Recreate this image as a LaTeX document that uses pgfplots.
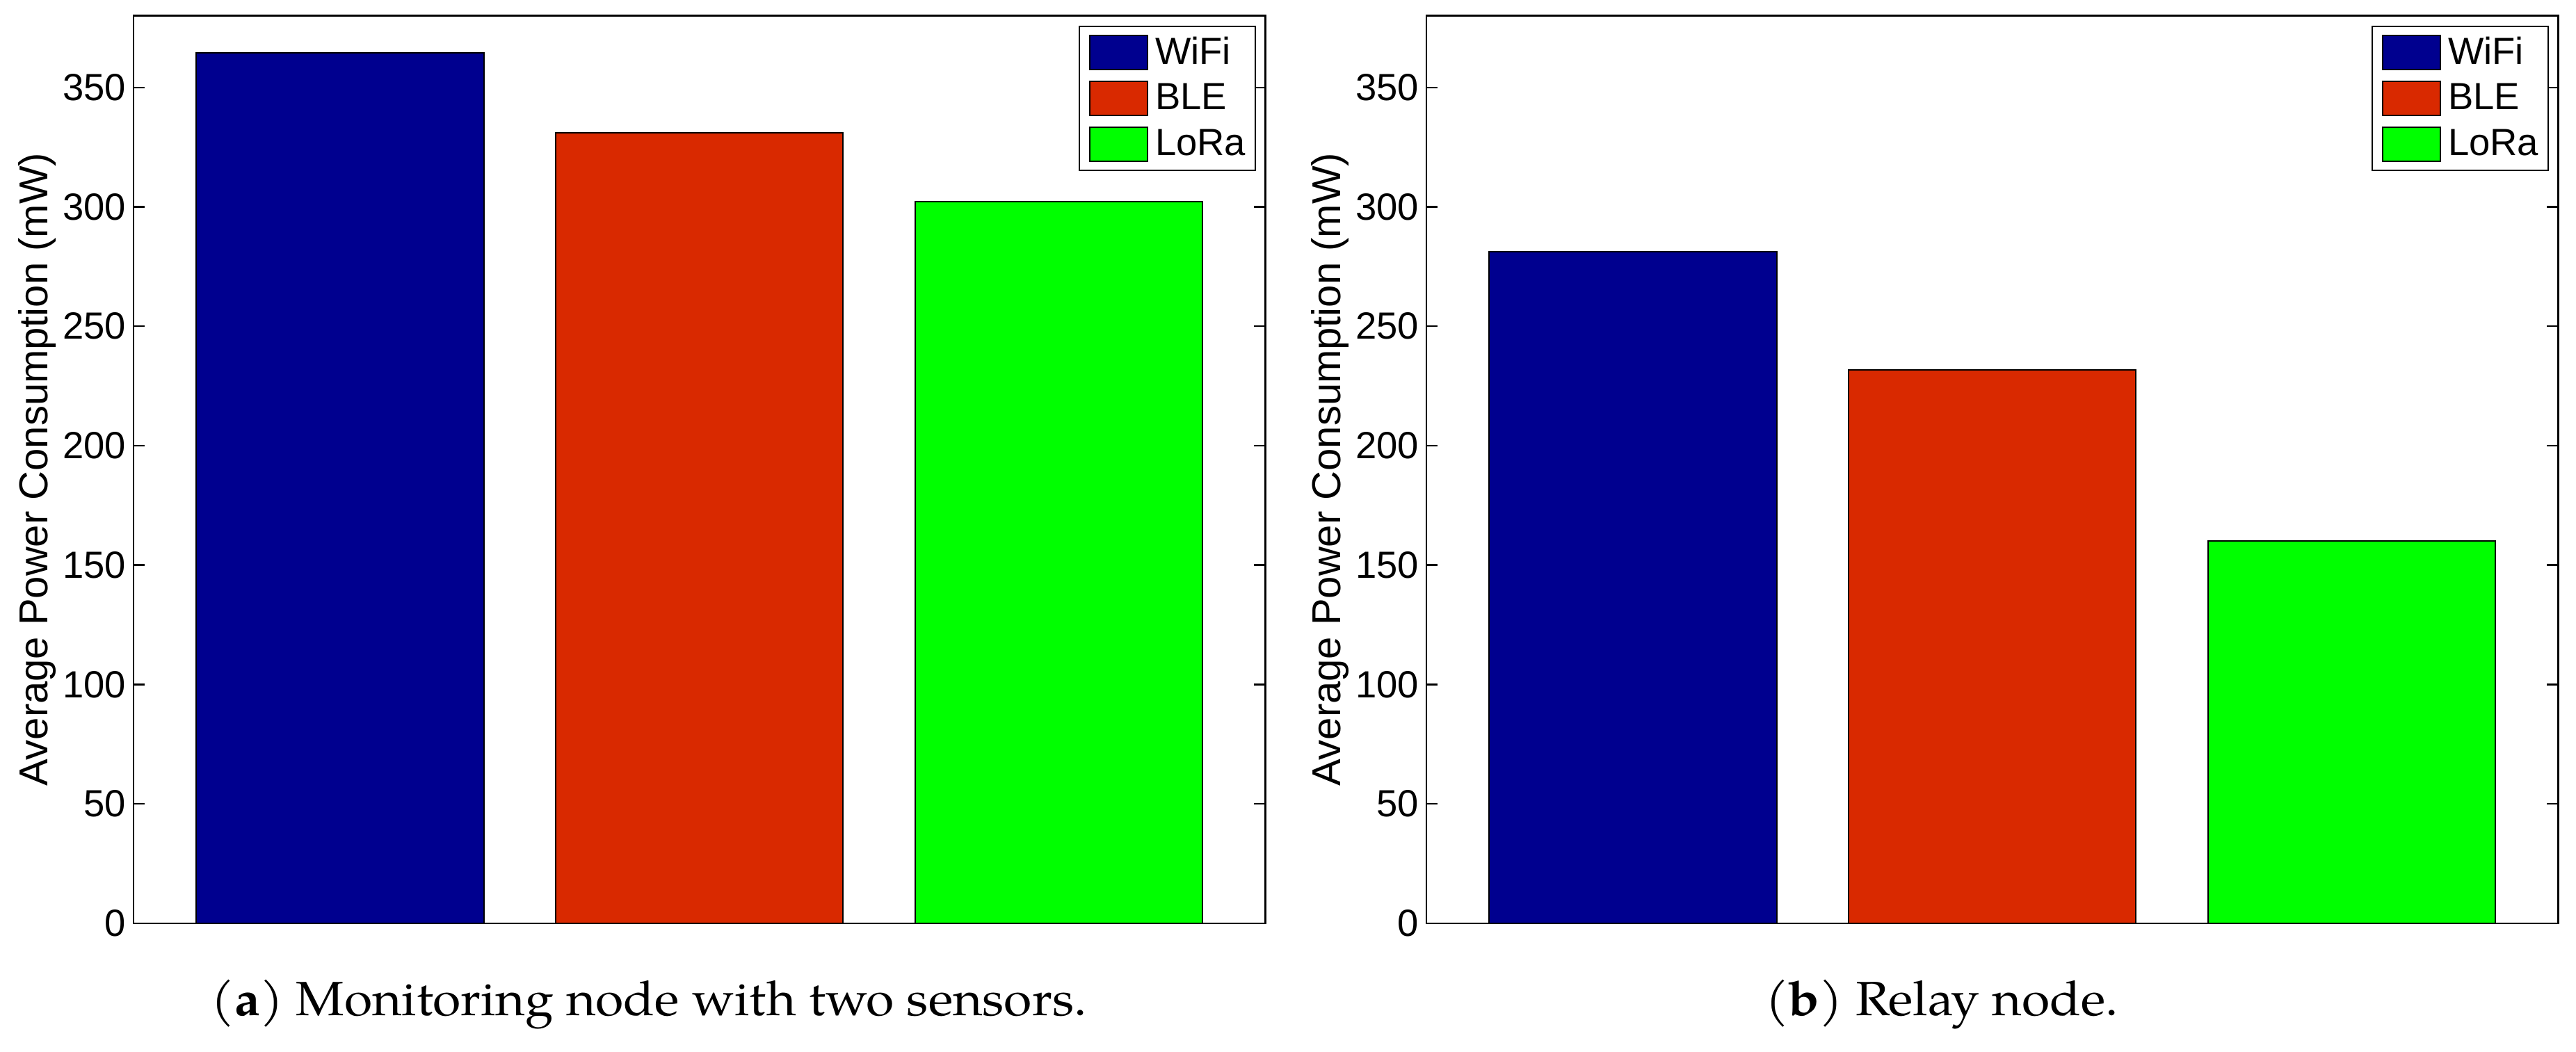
\documentclass[border=0pt]{standalone}
\usepackage{pgfplots}
\pgfplotsset{compat=1.18}
\usepackage{fontspec}
\setmainfont{Liberation Sans}
\newfontfamily\capfont[FakeStretch=1.06]{TeX Gyre Pagella}
\definecolor{cwifi}{RGB}{0,0,143}
\definecolor{cble}{RGB}{217,41,0}
\definecolor{clora}{RGB}{0,255,0}
\pgfplotsset{
  mybar/.style={
    scale only axis, width=406.9pt, height=326.3pt,
    xmin=0.425, xmax=3.575, ymin=0, ymax=380,
    xtick=\empty, ytick={0,50,...,350},
    ybar, bar width=0.8, bar shift=0pt,
    axis on top,
    tick align=inside, major tick length=4pt,
    axis line style={line width=0.6pt},
    every tick/.style={black, line width=0.6pt},
    /pgf/number format/assume math mode=true,
    tick label style={font=\fontsize{13.6}{16}\selectfont},
    yticklabel style={inner sep=0pt, xshift=-2.5pt},
    ylabel={Average Power Consumption (mW)},
    ylabel style={font=\fontsize{14.5}{17}\selectfont, at={(axis description cs:-0.0759,0.5)}, anchor=base},
    legend image code/.code={\draw[#1] (0pt,-6.1pt) rectangle (20.75pt,6.1pt);},
    legend style={at={(1,1)}, anchor=north east, xshift=-3.3pt, yshift=-3.5pt,
      draw=black, line width=0.5pt, inner xsep=3.5pt, inner ysep=3.1pt,
      row sep=3.8pt, column sep=2.5pt,
      font=\fontsize{13.6}{16}\selectfont,
      nodes={inner sep=0pt}, cells={anchor=west}},
  }
}
\begin{document}
\begin{tikzpicture}
\path[use as bounding box] (0,0) rectangle (926pt,-378pt);
\begin{axis}[mybar, at={(47.95pt,-5.67pt)}, anchor=north west]
\addplot[fill=cwifi, draw=black, line width=0.5pt, bar shift=0pt] coordinates {(1,364.6)};
\addplot[fill=cble, draw=black, line width=0.5pt, bar shift=0pt] coordinates {(2,330.9)};
\addplot[fill=clora, draw=black, line width=0.5pt, bar shift=0pt] coordinates {(3,302.3)};
\legend{WiFi,BLE,LoRa}
\end{axis}
\begin{axis}[mybar, at={(512.7pt,-5.67pt)}, anchor=north west]
\addplot[fill=cwifi, draw=black, line width=0.5pt, bar shift=0pt] coordinates {(1,281.1)};
\addplot[fill=cble, draw=black, line width=0.5pt, bar shift=0pt] coordinates {(2,231.7)};
\addplot[fill=clora, draw=black, line width=0.5pt, bar shift=0pt] coordinates {(3,160.2)};
\legend{WiFi,BLE,LoRa}
\end{axis}
\node[anchor=base, inner sep=0pt] at (233.3pt,-365pt) {\capfont\fontsize{17.3}{20}\selectfont (\textbf{a}) Monitoring node with two sensors.};
\node[anchor=base, inner sep=0pt] at (698pt,-365pt) {\capfont\fontsize{17.3}{20}\selectfont (\textbf{b}) Relay node.};
\end{tikzpicture}
\end{document}
